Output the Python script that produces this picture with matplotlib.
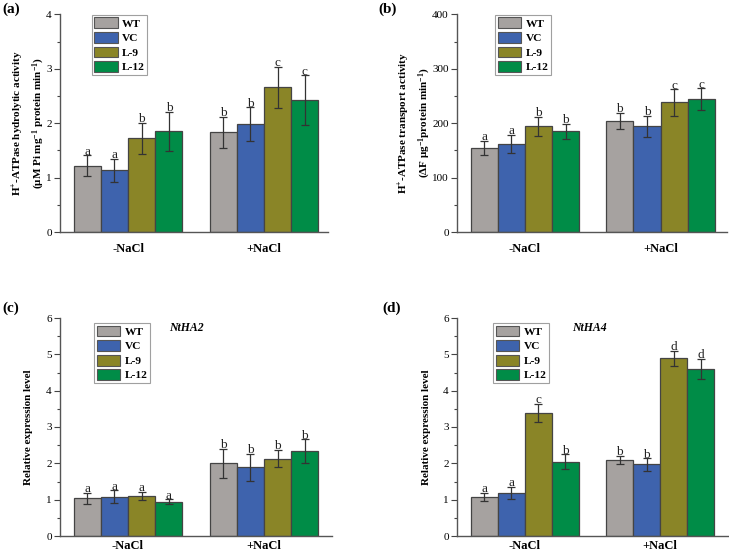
import numpy as np
import matplotlib
matplotlib.use("Agg")
import matplotlib.pyplot as plt
from matplotlib.ticker import MultipleLocator
from matplotlib.patches import Patch

plt.rcParams['font.family'] = ['Liberation Serif', 'DejaVu Serif']
plt.rcParams['mathtext.fontset'] = 'custom'
plt.rcParams['mathtext.rm'] = 'Liberation Serif:bold'
plt.rcParams['mathtext.bf'] = 'Liberation Serif:bold'
plt.rcParams['mathtext.it'] = 'Liberation Serif:bold:italic'
plt.rcParams['mathtext.default'] = 'bf'

groups = ['-NaCl', '+NaCl']
lines = ['WT', 'VC', 'L-9', 'L-12']
colors = ['#a6a2a0', '#3e63ad', '#8a8527', '#008c47']

# panel (a): H+-ATPase hydrolytic activity
a_vals = [[1.22, 1.13, 1.72, 1.85], [1.83, 1.98, 2.66, 2.42]]
a_err = [[0.19, 0.22, 0.28, 0.36], [0.28, 0.31, 0.38, 0.46]]
a_let = [['a', 'a', 'b', 'b'], ['b', 'b', 'c', 'c']]

# panel (b): H+-ATPase transport activity
b_vals = [[154, 162, 194, 185], [204, 194, 238, 244]]
b_err = [[13, 17, 18, 14], [15, 20, 24, 20]]
b_let = [['a', 'a', 'b', 'b'], ['b', 'b', 'c', 'c']]

# panel (c): NtHA2
c_vals = [[1.04, 1.08, 1.11, 0.94], [2.00, 1.89, 2.13, 2.33]]
c_err = [[0.15, 0.18, 0.11, 0.07], [0.39, 0.38, 0.24, 0.33]]
c_let = [['a', 'a', 'a', 'a'], ['b', 'b', 'b', 'b']]

# panel (d): NtHA4
d_vals = [[1.07, 1.19, 3.38, 2.05], [2.09, 1.97, 4.89, 4.59]]
d_err = [[0.12, 0.16, 0.25, 0.20], [0.11, 0.17, 0.21, 0.28]]
d_let = [['a', 'a', 'c', 'b'], ['b', 'b', 'd', 'd']]

W, H = 729, 553
fig = plt.figure(figsize=(W / 100, H / 100), dpi=100)

def axrect(l, r, t, b):
    return [l / W, (H - b) / H, (r - l) / W, (b - t) / H]

panels = [
    dict(rect=axrect(60, 328, 14.3, 232), vals=a_vals, err=a_err, let=a_let,
         ylim=(0, 4), major=1, minor=0.5, xr=1.47, tag='(a)', tagxy=(2, 9),
         ylabel='H$^{+}$-ATPase hydrolytic activity\n(μM Pi mg$^{-1}$ protein min$^{-1}$)',
         lpad=-1, xpad=8, leg=(0.118, 0.997), gene=None),
    dict(rect=axrect(457, 727, 14.3, 232), vals=b_vals, err=b_err, let=b_let,
         ylim=(0, 400), major=100, minor=50, xr=1.49, tag='(b)', tagxy=(378, 9),
         ylabel='H$^{+}$-ATPase transport activity\n(ΔF μg$^{-1}$protein min$^{-1}$)',
         lpad=-1, xpad=8, leg=(0.141, 0.997), gene=None),
    dict(rect=axrect(60, 332, 318, 536), vals=c_vals, err=c_err, let=c_let,
         ylim=(0, 6), major=1, minor=0.5, xr=1.5, tag='(c)', tagxy=(2, 308),
         ylabel='Relative expression level',
         lpad=9.5, xpad=3, leg=(0.125, 0.977), gene=('NtHA2', 0.43)),
    dict(rect=axrect(457, 728, 318, 536), vals=d_vals, err=d_err, let=d_let,
         ylim=(0, 6), major=1, minor=0.5, xr=1.5, tag='(d)', tagxy=(382, 308),
         ylabel='Relative expression level',
         lpad=8.5, xpad=3, leg=(0.133, 0.977), gene=('NtHA4', 0.48)),
]

bw = 0.2
offsets = (np.arange(4) - 1.5) * bw
xg = np.arange(len(groups))

for p in panels:
    ax = fig.add_axes(p['rect'])
    vals = np.array(p['vals'])
    err = np.array(p['err'])
    for i in range(4):
        x = xg + offsets[i]
        ax.bar(x, vals[:, i], width=bw, color=colors[i], edgecolor='#444444',
               linewidth=0.9, zorder=2)
        ax.errorbar(x, vals[:, i], yerr=err[:, i], fmt='none', ecolor='#333333',
                    elinewidth=0.9, capsize=2.7, capthick=0.9, zorder=3)
        for g in range(len(groups)):
            ax.annotate(p['let'][g][i], (x[g], vals[g, i] + err[g, i]),
                        xytext=(0, 0.5), textcoords='offset points',
                        ha='center', va='baseline', fontsize=9.5, color='#222222',
                        zorder=4)
    ax.set_xlim(-0.5, p['xr'])
    ax.set_ylim(*p['ylim'])
    ax.yaxis.set_major_locator(MultipleLocator(p['major']))
    ax.yaxis.set_minor_locator(MultipleLocator(p['minor']))
    ax.set_xticks(xg)
    ax.set_xticklabels(groups, fontsize=9, fontweight='bold')
    ax.tick_params(axis='x', length=0, pad=p['xpad'])
    ax.tick_params(axis='y', which='major', length=4, width=0.8, labelsize=8,
                   pad=2, color='#444444')
    ax.tick_params(axis='y', which='minor', length=2, width=0.8, color='#444444')
    for s in ['top', 'right']:
        ax.spines[s].set_visible(False)
    for s in ['left', 'bottom']:
        ax.spines[s].set_color('#555555')
        ax.spines[s].set_linewidth(1.0)
    ax.set_ylabel(p['ylabel'], fontsize=8, fontweight='bold', labelpad=p['lpad'],
                  linespacing=1.5)
    handles = [Patch(facecolor=colors[i], edgecolor='#555555', linewidth=0.8)
               for i in range(4)]
    leg = ax.legend(handles, lines, loc='upper left', bbox_to_anchor=p['leg'],
                    fancybox=False, frameon=True, edgecolor='#888888',
                    prop=dict(size=8.2, weight='bold'), handlelength=2.1,
                    handleheight=1.1, labelspacing=0.28, borderpad=0.22,
                    handletextpad=0.35, borderaxespad=0)
    leg.get_frame().set_linewidth(0.8)
    if p['gene']:
        ax.text(p['gene'][1], 5.72, p['gene'][0], fontsize=8.5, fontweight='bold',
                style='italic', ha='center', va='center')
    fig.text(p['tagxy'][0] / W, 1 - p['tagxy'][1] / H, p['tag'], fontsize=11,
             fontweight='bold', ha='left', va='center')

fig.savefig('out.png', dpi=100)
